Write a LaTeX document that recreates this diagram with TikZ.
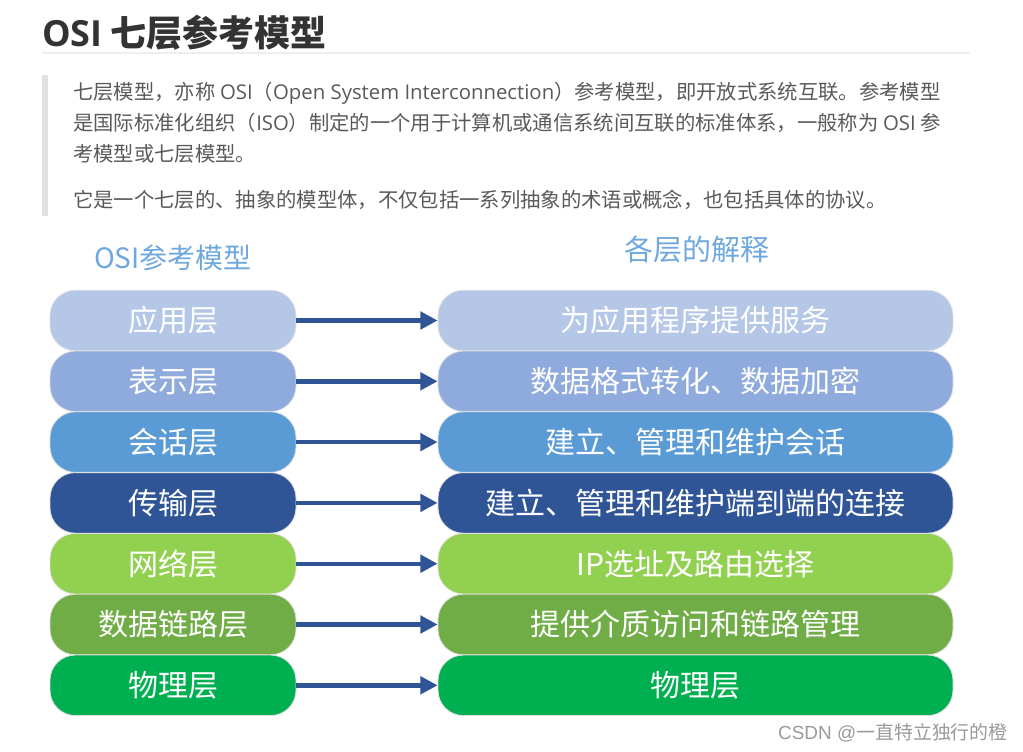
\documentclass[tikz,border=0pt]{standalone}
\usepackage{fontspec}
\setmainfont{Noto Sans CJK SC}
\newfontfamily\latinfont{Open Sans}
\newfontfamily\markfont{Liberation Sans}
\usetikzlibrary{arrows.meta}

\definecolor{titlegrey}{HTML}{333333}
\definecolor{paragrey}{HTML}{595959}
\definecolor{quotegrey}{HTML}{DFE2E5}
\definecolor{rulegrey}{HTML}{EEEEEE}
\definecolor{headblue}{HTML}{6FA8DC}
\definecolor{arrowblue}{HTML}{2F5597}
\definecolor{layapp}{HTML}{B4C7E7}
\definecolor{laypres}{HTML}{8FAADC}
\definecolor{laysess}{HTML}{5B9BD5}
\definecolor{laytrans}{HTML}{2F5597}
\definecolor{laynet}{HTML}{92D050}
\definecolor{laylink}{HTML}{70AD47}
\definecolor{layphys}{HTML}{00B050}

\begin{document}
\begin{tikzpicture}[x=0.75pt,y=-0.75pt,
	layer/.style={rounded corners=19pt, draw=black!12, line width=0.6pt, text=white, inner sep=0pt, minimum height=45.4pt, font=\fontsize{22.5}{26}\selectfont},
	leftlayer/.style={layer, minimum width=184.5pt},
	rightlayer/.style={layer, minimum width=386.25pt},
	maparrow/.style={-{Triangle[length=13pt,width=13pt]}, line width=3.3pt, draw=arrowblue},
	para/.style={anchor=base west, inner sep=0pt, text=paragrey, font=\fontsize{15.25}{18}\selectfont}]
		\useasboundingbox (0,0) rectangle (1023,752);
		% heading and text
		\node[anchor=base west, inner sep=0pt, text=titlegrey, font=\fontsize{27}{32}\selectfont\bfseries] (title) at (42,47) {{\latinfont\bfseries OSI} 七层参考模型};
		\draw[rulegrey, line width=1.5pt] (42,53.5) -- (970,53.5);
		\fill[quotegrey] (42,75) rectangle (48,216);
		\node[para] (line1) at (73,99.5) {七层模型，亦称 {\latinfont OSI}（{\latinfont Open System Interconnection}）参考模型，即开放式系统互联。参考模型};
		\node[para] (line2) at (73,130.5) {是国际标准化组织（{\latinfont ISO}）制定的一个用于计算机或通信系统间互联的标准体系，一般称为 {\latinfont OSI} 参};
		\node[para] (line3) at (73,161.5) {考模型或七层模型。};
		\node[para] (line4) at (73,207.5) {它是一个七层的、抽象的模型体，不仅包括一系列抽象的术语或概念，也包括具体的协议。};
		% column heads
		\node[text=headblue, font=\fontsize{21}{25}\selectfont] (lefthead) at (173,258) {OSI参考模型};
		\node[text=headblue, font=\fontsize{21.75}{25}\selectfont] (righthead) at (697,249) {各层的解释};
		% layers
		\node[leftlayer, fill=layapp] (app) at (173,320.5) {应用层};
		\node[leftlayer, fill=laypres] (pres) at (173,381.3) {表示层};
		\node[leftlayer, fill=laysess] (sess) at (173,442.1) {会话层};
		\node[leftlayer, fill=laytrans] (trans) at (173,502.9) {传输层};
		\node[leftlayer, fill=laynet] (net) at (173,563.7) {网络层};
		\node[leftlayer, fill=laylink] (link) at (173,624.5) {数据链路层};
		\node[leftlayer, fill=layphys] (phys) at (173,685.3) {物理层};
		\node[rightlayer, fill=layapp] (appx) at (695.5,320.5) {为应用程序提供服务};
		\node[rightlayer, fill=laypres] (presx) at (695.5,381.3) {数据格式转化、数据加密};
		\node[rightlayer, fill=laysess] (sessx) at (695.5,442.1) {建立、管理和维护会话};
		\node[rightlayer, fill=laytrans] (transx) at (695.5,502.9) {建立、管理和维护端到端的连接};
		\node[rightlayer, fill=laynet] (netx) at (695.5,563.7) {IP选址及路由选择};
		\node[rightlayer, fill=laylink] (linkx) at (695.5,624.5) {提供介质访问和链路管理};
		\node[rightlayer, fill=layphys] (physx) at (695.5,685.3) {物理层};
		% arrows
		\draw[maparrow] (app.east) -- (appx.west);
		\draw[maparrow] (pres.east) -- (presx.west);
		\draw[maparrow] (sess.east) -- (sessx.west);
		\draw[maparrow] (trans.east) -- (transx.west);
		\draw[maparrow] (net.east) -- (netx.west);
		\draw[maparrow] (link.east) -- (linkx.west);
		\draw[maparrow] (phys.east) -- (physx.west);
		\node[anchor=east, inner sep=0pt, text=black!40, font=\fontsize{14.2}{17}\selectfont] (mark) at (1008,733) {{\markfont CSDN @}一直特立独行的橙};
\end{tikzpicture}
\end{document}
